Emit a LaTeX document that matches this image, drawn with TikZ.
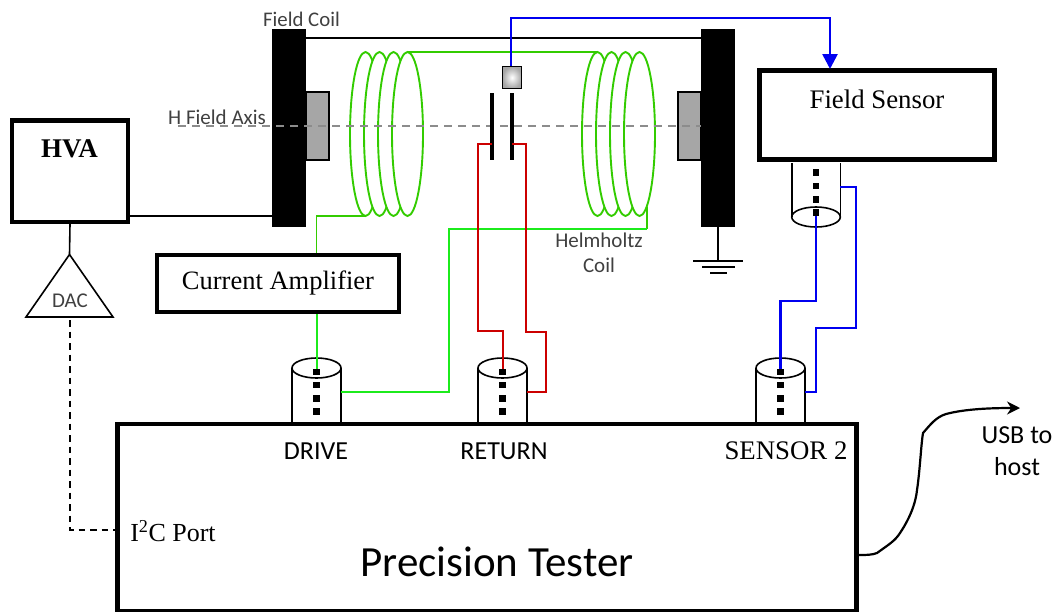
\documentclass[tikz,border=0pt]{standalone}
\usepackage{fontspec}
\setmainfont{Liberation Serif}
\newfontfamily\carfont{Carlito}
\usetikzlibrary{arrows.meta}
\definecolor{coil}{HTML}{33CC00}
\definecolor{brightg}{HTML}{1CEB1C}
\definecolor{wblue}{HTML}{0000F0}
\definecolor{wred}{HTML}{CC0000}
\definecolor{txt}{HTML}{404040}
\definecolor{axisg}{HTML}{8C8C8C}
\definecolor{blockg}{HTML}{A6A6A6}
\tikzset{
  x=1pt,y=-1pt,
  box/.style={draw=black,fill=white,line width=#1,inner sep=0pt},
  plate/.style={fill=black,draw=none},
  turn/.style={draw=coil,fill=white,line width=1.9pt},
  grn/.style={draw=coil,line width=1.9pt},
  bgrn/.style={draw=brightg,line width=2pt},
  blu/.style={draw=wblue,line width=2.3pt},
  rd/.style={draw=wred,line width=2pt},
  wire/.style={draw=black,line width=1.6pt},
  pin/.style={fill=black,draw=none,minimum size=6.5pt,inner sep=0pt},
  cal/.style={font=\carfont\fontsize{#1}{#1}\selectfont,text=txt,inner sep=0pt},
  ser/.style={font=\fontsize{#1}{#1}\selectfont,text=black,inner sep=0pt},
}
\newcommand{\cylbody}[4]{% name, centre x, top y, bottom y
  \draw[line width=1.6pt] (#2-24.5,#3) -- (#2-24.5,#4) (#2+24.5,#4) -- (#2+24.5,#3);
  \foreach \k in {0,1,2,3}{\node[pin] (#1p\k) at (#2,#3+4+13.2*\k) {};}
}
\begin{document}
\begin{tikzpicture}
\useasboundingbox (0,0) rectangle (1056,611);
% plates
\node[plate,minimum width=34pt,minimum height=198pt,inner sep=0pt] (plateL) at (289,128) {};
\node[plate,minimum width=34pt,minimum height=198pt,inner sep=0pt] (plateR) at (718,128) {};
\node[draw=black,fill=blockg,line width=1.6pt,minimum width=23pt,minimum height=68pt,inner sep=0pt] (blockL) at (317.5,126) {};
\node[draw=black,fill=blockg,line width=1.6pt,minimum width=23pt,minimum height=68pt,inner sep=0pt] (blockR) at (689.5,126) {};
\draw[wire] (plateL.east|-0,38) -- (plateR.west|-0,38);
% coils
\foreach \c in {365.5,379.5,393.5,407.5}{\draw[turn] (\c,134) ellipse [x radius=15.5,y radius=82];}
\foreach \c in {597.5,611.5,625.5,639.5}{\draw[turn] (\c,134) ellipse [x radius=15.5,y radius=82];}
\coordinate (coilTop1) at (407.5,52);
\coordinate (coilTop2) at (597.5,52);
\coordinate (coilBot1) at (365.5,216);
\coordinate (coilBot2) at (646.7,207);
\draw[grn] (coilTop1) -- (coilTop2);
% axis
\coordinate (axA) at (178,126);
\coordinate (axB) at (701,126);
\draw[draw=axisg,line width=1.5pt,dash pattern=on 7.5pt off 6.5pt] (axA) -- (axB);
% boxes
\node[box=4.5pt,minimum width=116pt,minimum height=101.5pt] (hva) at (69.75,171) {};
\node[ser=27,font=\bfseries\fontsize{27}{27}\selectfont] (hvat) at (69.5,149) {HVA};
\node[box=5pt,minimum width=235pt,minimum height=89pt] (fs) at (877,115) {};
\node[ser=26.8] (fst) at (877,99) {Field Sensor};
\node[box=3.8pt,minimum width=242.5pt,minimum height=57.5pt] (amp) at (278,283.5) {};
\node[ser=26.5] (ampt) at (278,283) {Current Amplifier};
\node[box=4.5pt,minimum width=739pt,minimum height=187.5pt] (pt) at (487,517.75) {};
% connectors (cylinders)
\cylbody{d}{316.5}{368}{422}
\cylbody{r}{502.5}{368}{422}
\cylbody{s}{780.5}{368}{422}
\draw[line width=1.6pt] (316.5,368) ellipse [x radius=24.5,y radius=10];
\draw[line width=1.6pt] (502.5,368) ellipse [x radius=24.5,y radius=10];
\draw[line width=1.6pt] (780.5,368) ellipse [x radius=24.5,y radius=10];
% field sensor probe
\draw[line width=1.6pt] (791.7,163) -- (791.7,217) (840.3,217) -- (840.3,163);
\draw[line width=1.6pt] (816,217) ellipse [x radius=24.3,y radius=10];
\foreach \k/\yy in {0/172.7,1/186,2/199.3,3/212.7}{\node[pin] (fp\k) at (816,\yy) {};}
% Hall sensor and capacitor
\node[draw=black,line width=1.6pt,inner color=white,outer color=gray!70,minimum width=19pt,minimum height=22pt,inner sep=0pt] (hall) at (512,77.5) {};
\node[plate,minimum width=3.8pt,minimum height=67pt,inner sep=0pt] (capL) at (492.3,126.5) {};
\node[plate,minimum width=3.8pt,minimum height=67pt,inner sep=0pt] (capR) at (512.3,126.5) {};
% green wires
\draw[grn] (coilBot1) -| (amp.north-|316.5,0);
\draw[bgrn] (amp.south-|316.5,0) -- (dp0.north);
\draw[grn] (coilBot2) -- (646.7,229);
\draw[bgrn] (646.7,229) -- (449,229) -- (449,392) -- (341,392);
% red wires
\draw[rd] (capL.center|-0,144) -- (478,144) -- (478,331) -- (502.5,331) -- (rp0.north);
\draw[rd] (capR.center|-0,144) -- (526,144) -- (526,332) -- (546,332) -- (546,392) -- (527,392);
% blue wires
\draw[blu,line width=2.6pt,-{Triangle[length=15pt,width=15pt]}] (hall.north-|511,0) -- (511,18) -- (830,18) -- (830,69);
\draw[blu] (fp3.south) -- (816,300.7) -- (780.5,300.7) -- (sp0.north);
\draw[blu] (840.3,187) -- (856,187) -- (856,328) -- (816,328) -- (816,392) -- (805,392);
% HVA links
\draw[wire] (hva.east|-0,216) -- (plateL.west|-0,216);
\coordinate (dacTop) at (69.5,254.5);
\coordinate (dacL) at (26,317);
\coordinate (dacR) at (113,317);
\draw[line width=1.6pt,line join=miter,fill=white] (dacTop) -- (dacR) -- (dacL) -- cycle;
\draw[wire] (hva.south-|70,0) -- (dacTop);
\coordinate (dashTop) at (70,320);
\coordinate (dashBot) at (70,530);
\draw[line width=1.6pt,dash pattern=on 6.5pt off 5pt] (dashTop) -- (dashBot) -- (pt.west|-0,530);
% ground
\coordinate (gnd) at (718,261);
\draw[wire] (plateR.south) -- (gnd);
\draw[line width=1.7pt] (693,261) -- (743,261) (702,267) -- (735,267) (710,273) -- (727,273);
% USB
\coordinate (usbEnd) at (1020,408);
\draw[line width=2.2pt,-{Stealth[length=13pt,width=13pt]}] (pt.east|-0,555) .. controls (866,555) and (872,555) .. (877,553) .. controls (888,545) and (895,541) .. (900,533) .. controls (912,515) and (916,500) .. (917,490) .. controls (920,470) and (921,445) .. (923,433) .. controls (930,425) and (936,417) .. (946,414) .. controls (965,409) and (990,408) .. (usbEnd);
% labels
\node[cal=20.8] (l1) at (301.5,19) {Field Coil};
\node[cal=21] (l2) at (217,117) {H Field Axis};
\node[cal=21] (l3) at (599,240) {Helmholtz};
\node[cal=21] (l4) at (599,265) {Coil};
\node[cal=21] (l5) at (70,301) {DAC};
\node[cal=26,text=black] (l6) at (316,451) {DRIVE};
\node[cal=26,text=black] (l7) at (504,451) {RETURN};
\node[ser=26.8] (l8) at (786,451) {SENSOR 2};
\node[ser=26] (l9) at (173,531) {I\textsuperscript{2}C Port};
\node[cal=43,text=black] (l10) at (497,562) {Precision Tester};
\node[cal=26,text=black] (l11) at (1017,435) {USB to};
\node[cal=26,text=black] (l12) at (1017,467) {host};
\end{tikzpicture}
\end{document}
